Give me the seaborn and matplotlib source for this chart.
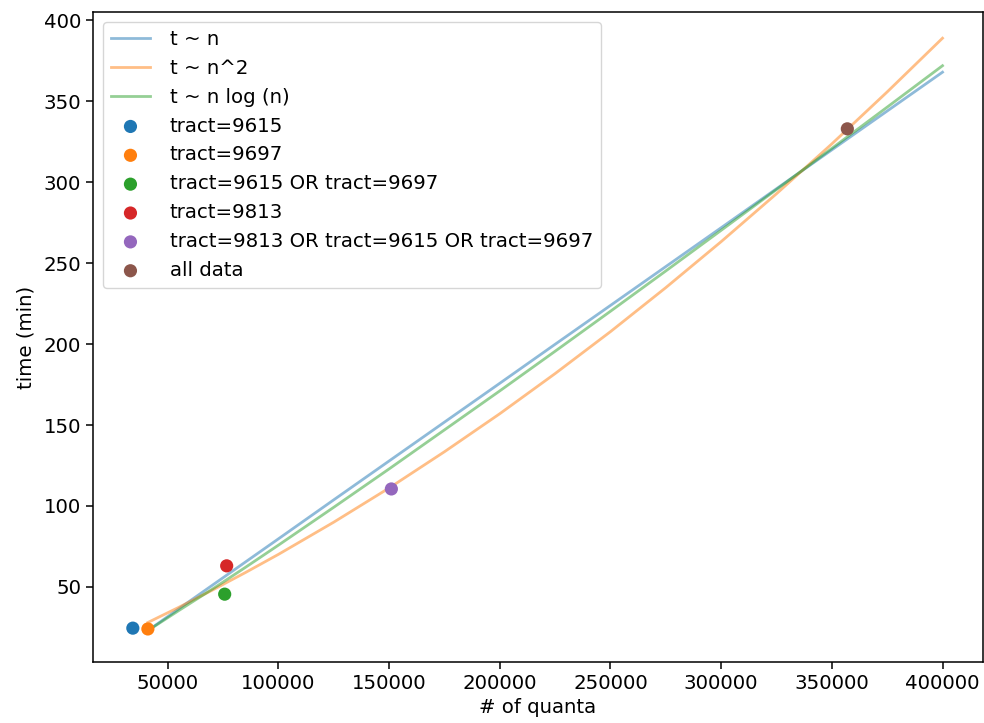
import matplotlib
matplotlib.use("Agg")
import matplotlib.pyplot as plt
import seaborn as sns
import numpy as np

# Fit curves
curve_n = [41000, 55000, 70000, 85000, 100000, 125000, 150000, 175000, 200000,
           225000, 250000, 275000, 300000, 325000, 350000, 375000, 400000]
fit_linear = [23, 36.5, 50.9, 65.3, 79.7, 103.8, 127.8, 151.8, 175.8,
              199.9, 223.9, 247.9, 271.9, 296.0, 320.0, 344.0, 368]
fit_square = [28, 37.4, 47.9, 58.8, 70.1, 90.0, 111.1, 133.5, 157.0,
              181.8, 207.7, 234.9, 263.3, 292.9, 323.7, 355.8, 389]
fit_nlogn = [23, 35.4, 48.5, 62.0, 75.8, 99.2, 122.9, 147.0, 171.1,
             195.6, 220.3, 245.2, 270.3, 295.5, 320.9, 346.4, 372]
fit_labels = ["t ~ n", "t ~ n^2", "t ~ n log (n)"]

# Measured points
point_labels = ["tract=9615", "tract=9697", "tract=9615 OR tract=9697",
                "tract=9813", "tract=9813 OR tract=9615 OR tract=9697", "all data"]
point_n = [34200, 41000, 75700, 76600, 151000, 357000]
point_t = [24.5, 24.0, 45.5, 63.0, 110.5, 333.0]

palette = sns.color_palette("tab10")

plt.rcParams.update({
    "font.family": ["DejaVu Sans"],
    "font.size": 14.2,
    "axes.linewidth": 1.1,
    "xtick.major.width": 1.1,
    "ytick.major.width": 1.1,
    "xtick.major.size": 5,
    "ytick.major.size": 5,
})

fig = plt.figure(figsize=(9.84, 7.23), dpi=100)
ax = fig.add_axes([0.0945, 0.0844, 0.9045, 0.8986])

for ys, lab, col in zip([fit_linear, fit_square, fit_nlogn], fit_labels, palette[:3]):
    sns.lineplot(x=curve_n, y=ys, ax=ax, color=col, alpha=0.5, linewidth=2.0, label=lab)

for xv, yv, lab, col in zip(point_n, point_t, point_labels, palette[:6]):
    sns.scatterplot(x=[xv], y=[yv], ax=ax, color=col, s=90, edgecolor="none",
                    label=lab, zorder=3)

ax.set_xlabel("# of quanta")
ax.set_ylabel("time (min)", labelpad=6)
ax.set_xlim(16200, 418300)
ax.set_ylim(3.6, 405)
ax.set_yticks([50, 100, 150, 200, 250, 300, 350, 400])
ax.set_xticks([50000, 100000, 150000, 200000, 250000, 300000, 350000, 400000])
ax.legend(loc="upper left", fontsize=14.2, handlelength=2.0, borderpad=0.4,
          labelspacing=0.5, handletextpad=1.0)

fig.savefig("out.png", dpi=100)
